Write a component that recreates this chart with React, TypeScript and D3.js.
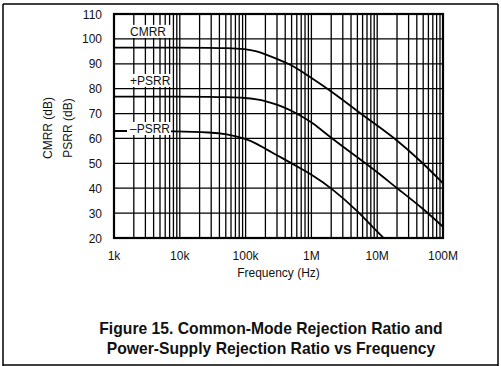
import React from 'react';
import * as d3 from 'd3';

// Values (frequency in Hz, rejection in dB)
const freqs = [1e3, 1e4, 3e4, 5e4, 1e5, 1.5e5, 2e5, 3e5, 5e5, 7e5, 1e6, 2e6, 5e6, 1e7, 2e7, 5e7, 1e8];
const cmrr = [96.5, 96.5, 96.4, 96.3, 96.0, 95.0, 93.8, 92.0, 89.5, 87.0, 84.3, 79.0, 71.0, 65.2, 59.4, 50.0, 42.0];
const psrrPlus = [76.8, 76.8, 76.7, 76.6, 76.3, 75.7, 75.0, 73.7, 71.2, 69.0, 66.7, 60.2, 52.4, 46.5, 40.0, 31.8, 24.5];
const psrrMinusFreqs = [1e3, 1e4, 3e4, 5e4, 1e5, 1.5e5, 2e5, 3e5, 5e5, 7e5, 1e6, 2e6, 5e6, 1e7, 1.5e7];
const psrrMinus = [63.0, 62.9, 62.4, 61.8, 60.0, 57.8, 55.8, 53.3, 50.0, 47.8, 45.5, 40.2, 31.0, 22.5, 18.0];

const xTickValues = [1e3, 1e4, 1e5, 1e6, 1e7, 1e8];
const xTickLabels = ['1k', '10k', '100k', '1M', '10M', '100M'];
const yTickValues = [20, 30, 40, 50, 60, 70, 80, 90, 100, 110];

const curveLabels = [
  { text: 'CMRR', freq: 1.75e3, db: 101.2 },
  { text: '+PSRR', freq: 1.75e3, db: 81.5 },
  { text: '\u2013PSRR', freq: 1.75e3, db: 62.2 },
];

const W = 501;
const H = 366;
const plot = { left: 114, right: 443, top: 14, bottom: 238 };
const font = '"Liberation Sans", Arial, sans-serif';

const App: React.FC = () => {
  const x = d3.scaleLog().domain([1e3, 1e8]).range([plot.left, plot.right]);
  const y = d3.scaleLinear().domain([20, 110]).range([plot.bottom, plot.top]);

  // minor grid: 1..9 within each decade
  const gridX: number[] = [];
  for (let d = 3; d < 8; d++) {
    for (let m = 1; m <= 9; m++) gridX.push(m * Math.pow(10, d));
  }
  gridX.push(1e8);

  const line = d3.line<[number, number]>()
    .x(d => x(d[0]))
    .y(d => y(d[1]))
    .curve(d3.curveBasis);

  const series = [
    freqs.map((f, i) => [f, cmrr[i]] as [number, number]),
    freqs.map((f, i) => [f, psrrPlus[i]] as [number, number]),
    psrrMinusFreqs.map((f, i) => [f, psrrMinus[i]] as [number, number]),
  ];

  return (
    <svg width={W} height={H} style={{ position: 'absolute', left: 0, top: 0, background: '#fff' }}
      fontFamily={font}>
      <defs>
        <clipPath id="plotClip">
          <rect x={plot.left} y={plot.top} width={plot.right - plot.left} height={plot.bottom - plot.top} />
        </clipPath>
      </defs>

      {/* outer frame */}
      <path d={`M3,4 H498 M3,4 V366 M498,4 V366 M3,365 H498`} stroke="#000" strokeWidth={1.5} fill="none" />

      {/* grid */}
      <g stroke="#000" strokeWidth={1.3}>
        {gridX.map((f, i) => (
          <line key={'gx' + i} x1={x(f)} x2={x(f)} y1={plot.top} y2={plot.bottom} />
        ))}
        {yTickValues.map(v => (
          <line key={'gy' + v} x1={plot.left} x2={plot.right} y1={y(v)} y2={y(v)} />
        ))}
      </g>

      {/* curves */}
      <g clipPath="url(#plotClip)" fill="none" stroke="#000" strokeWidth={1.8}>
        {series.map((s, i) => <path key={i} d={line(s) || ''} />)}
      </g>

      {/* curve labels with white boxes */}
      {curveLabels.map(l => (
        <g key={l.text}>
          <rect x={x(l.freq) - 3} y={y(l.db) - 11} width={44} height={13} fill="#fff" />
          <text x={x(l.freq)} y={y(l.db)} fontSize={12} fill="#111">{l.text}</text>
        </g>
      ))}

      {/* plot border */}
      <rect x={plot.left} y={plot.top} width={plot.right - plot.left} height={plot.bottom - plot.top}
        fill="none" stroke="#000" strokeWidth={2.2} />

      {/* y ticks */}
      {yTickValues.map(v => (
        <text key={'yt' + v} x={102} y={y(v) + 4.5} textAnchor="end" fontSize={12} fill="#111">{v}</text>
      ))}
      {/* x ticks */}
      {xTickValues.map((f, i) => (
        <text key={'xt' + f} x={x(f)} y={260} textAnchor="middle" fontSize={12} fill="#111">{xTickLabels[i]}</text>
      ))}

      <text x={(plot.left + plot.right) / 2} y={277} textAnchor="middle" fontSize={12} fill="#111">Frequency (Hz)</text>
      <text transform={`translate(52,128) rotate(-90)`} textAnchor="middle" fontSize={12} fill="#111">CMRR (dB)</text>
      <text transform={`translate(72,128) rotate(-90)`} textAnchor="middle" fontSize={12} fill="#111">PSRR (dB)</text>

      <text x={271} y={334} textAnchor="middle" fontSize={15.7} fontWeight="bold" fill="#111">
        Figure 15. Common-Mode Rejection Ratio and
      </text>
      <text x={271} y={354} textAnchor="middle" fontSize={15.7} fontWeight="bold" fill="#111">
        Power-Supply Rejection Ratio vs Frequency
      </text>
    </svg>
  );
};

export default App;
